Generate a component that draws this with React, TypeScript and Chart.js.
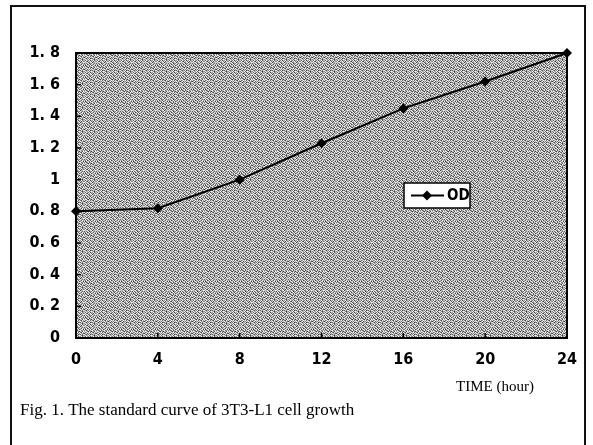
import React, { useEffect, useRef } from "react";
import { Chart, registerables } from "chart.js";

Chart.register(...registerables);

const hours = [0, 4, 8, 12, 16, 20, 24];
const odValues = [0.8, 0.82, 1.0, 1.23, 1.45, 1.62, 1.8];
const yTickLabels: Record<string, string> = {
  "0": "0", "0.2": "0. 2", "0.4": "0. 4", "0.6": "0. 6", "0.8": "0. 8",
  "1": "1", "1.2": "1. 2", "1.4": "1. 4", "1.6": "1. 6", "1.8": "1. 8",
};
const seriesLabel = "OD";
const xTitle = "TIME (hour)";
const caption = "Fig. 1. The standard curve of 3T3-L1 cell growth";

// fixed dither tile for the stippled plot background
const ditherTile = [
  [210, 90, 240, 160, 120, 230, 70, 190, 150, 250, 100, 180],
  [140, 250, 120, 60, 220, 170, 240, 110, 210, 80, 230, 130],
  [230, 170, 200, 240, 90, 140, 200, 250, 60, 190, 160, 240],
  [80, 220, 110, 180, 250, 60, 160, 130, 240, 170, 120, 200],
  [190, 130, 250, 70, 150, 230, 100, 220, 180, 90, 250, 150],
  [250, 60, 170, 220, 190, 120, 250, 80, 140, 230, 200, 70],
  [120, 200, 90, 140, 240, 80, 180, 210, 250, 110, 150, 220],
  [170, 240, 230, 100, 60, 210, 140, 60, 190, 200, 80, 250],
  [220, 110, 150, 250, 170, 250, 90, 230, 120, 70, 240, 160],
  [60, 190, 240, 80, 210, 130, 220, 170, 250, 160, 190, 100],
  [240, 150, 70, 200, 120, 240, 60, 140, 90, 230, 120, 210],
  [130, 230, 180, 160, 250, 100, 200, 250, 210, 140, 60, 180],
];

function makePattern(ctx: CanvasRenderingContext2D) {
  const c = document.createElement("canvas");
  const n = ditherTile.length;
  c.width = n;
  c.height = n;
  const g = c.getContext("2d")!;
  for (let y = 0; y < n; y++)
    for (let x = 0; x < n; x++) {
      const v = ditherTile[y][x];
      g.fillStyle = `rgb(${v},${v},${v})`;
      g.fillRect(x, y, 1, 1);
    }
  return ctx.createPattern(c, "repeat");
}

const tickFont = "'Liberation Sans Narrow', 'DejaVu Sans Condensed', sans-serif";

export default function App() {
  const ref = useRef<HTMLCanvasElement>(null);
  useEffect(() => {
    document.body.style.margin = "0";
    const canvas = ref.current!;
    const decor = {
      id: "decor",
      beforeDraw(chart: any) {
        const { ctx, chartArea: a } = chart;
        ctx.save();
        ctx.fillStyle = "#fff";
        ctx.fillRect(0, 0, chart.width, chart.height);
        ctx.strokeStyle = "#111";
        ctx.lineWidth = 2;
        ctx.beginPath();
        ctx.moveTo(11, 445);
        ctx.lineTo(11, 6);
        ctx.lineTo(585, 6);
        ctx.lineTo(585, 445);
        ctx.stroke();
        ctx.fillStyle = makePattern(ctx) || "#aaa";
        ctx.fillRect(a.left, a.top, a.right - a.left, a.bottom - a.top);
        ctx.restore();
      },
      afterDatasetsDraw(chart: any) {
        const { ctx, chartArea: a, scales } = chart;
        ctx.save();
        ctx.strokeStyle = "#000";
        ctx.lineWidth = 2;
        ctx.strokeRect(a.left, a.top, a.right - a.left, a.bottom - a.top);
        ctx.lineWidth = 1.5;
        scales.y.ticks.forEach((t: any) => {
          const y = scales.y.getPixelForValue(t.value);
          ctx.beginPath();
          ctx.moveTo(a.left, y);
          ctx.lineTo(a.left + 5, y);
          ctx.stroke();
        });
        scales.x.ticks.forEach((t: any) => {
          const x = scales.x.getPixelForValue(t.value);
          ctx.beginPath();
          ctx.moveTo(x, a.bottom);
          ctx.lineTo(x, a.bottom - 5);
          ctx.stroke();
        });
        // legend box
        const lx = 404, ly = 183, lw = 66, lh = 25;
        ctx.fillStyle = "#fff";
        ctx.fillRect(lx, ly, lw, lh);
        ctx.strokeStyle = "#000";
        ctx.lineWidth = 1.5;
        ctx.strokeRect(lx, ly, lw, lh);
        ctx.lineWidth = 2;
        ctx.beginPath();
        ctx.moveTo(lx + 7, ly + lh / 2);
        ctx.lineTo(lx + 40, ly + lh / 2);
        ctx.stroke();
        ctx.fillStyle = "#000";
        const cx = lx + 23, cy = ly + lh / 2;
        ctx.beginPath();
        ctx.moveTo(cx, cy - 5);
        ctx.lineTo(cx + 5, cy);
        ctx.lineTo(cx, cy + 5);
        ctx.lineTo(cx - 5, cy);
        ctx.closePath();
        ctx.fill();
        ctx.font = `bold 15px ${tickFont}`;
        ctx.textBaseline = "middle";
        ctx.textAlign = "left";
        ctx.fillText(chart.data.datasets[0].label, lx + 43, cy + 1);
        ctx.font = "15px 'Liberation Serif', serif";
        ctx.textBaseline = "alphabetic";
        ctx.fillText(xTitle, 456, 391);
        ctx.font = "17px 'Liberation Serif', serif";
        ctx.fillText(caption, 20, 415);
        ctx.restore();
      },
    };
    const chart = new Chart(canvas, {
      type: "line",
      data: {
        datasets: [
          {
            label: seriesLabel,
            data: hours.map((h, i) => ({ x: h, y: odValues[i] })),
            borderColor: "#000",
            backgroundColor: "#000",
            borderWidth: 2,
            pointStyle: "rectRot",
            pointRadius: 5,
            pointBorderWidth: 0,
            tension: 0,
            clip: false as any,
          },
        ],
      },
      options: {
        animation: false,
        responsive: false,
        layout: { padding: { left: 20, top: 53, right: 26, bottom: 72 } },
        plugins: { legend: { display: false }, tooltip: { enabled: false } },
        scales: {
          x: {
            type: "linear",
            min: 0,
            max: 24,
            border: { display: false },
            grid: { display: false },
            ticks: {
              stepSize: 4,
              color: "#000",
              padding: 4,
              font: { family: tickFont, size: 16, weight: "bold" },
            },
            afterFit(s: any) { s.height = 35; },
          },
          y: {
            min: 0,
            max: 1.8,
            border: { display: false },
            grid: { display: false },
            ticks: {
              stepSize: 0.2,
              color: "#000",
              padding: 8,
              font: { family: tickFont, size: 16, weight: "bold" },
              callback: (v: any) => yTickLabels[String(Math.round(Number(v) * 10) / 10)] ?? String(v),
            },
            afterFit(s: any) { s.width = 56; },
          },
        },
      },
      plugins: [decor],
    });
    return () => chart.destroy();
  }, []);
  return <canvas ref={ref} width={593} height={445} style={{ display: "block" }} />;
}
